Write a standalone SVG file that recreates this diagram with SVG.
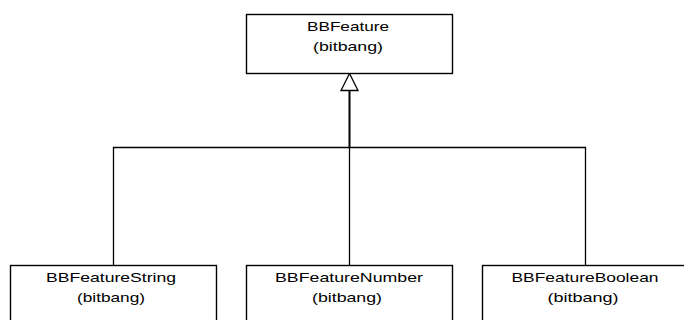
<svg xmlns="http://www.w3.org/2000/svg" width="684" height="320" viewBox="0 0 684 320">
  <style>
    .box { fill: #ffffff; stroke: #000000; stroke-width: 1.4; }
    .label { font-family: "Liberation Sans", Arial, sans-serif; font-size: 13px; fill: #000000; text-anchor: middle; }
    .edge { fill: none; stroke: #000000; stroke-width: 1.3; }
    .trunk { fill: none; stroke: #000000; stroke-width: 2; }
    .head { fill: #ffffff; stroke: #000000; stroke-width: 1.3; stroke-linejoin: miter; }
  </style>
  <rect width="684" height="320" fill="#ffffff"/>

  <!-- inheritance connectors -->
  <g id="connectors">
    <line class="trunk" x1="349.5" y1="90" x2="349.5" y2="147.5"/>
    <polyline class="edge" points="113.5,265 113.5,147.5 585.5,147.5 585.5,265"/>
    <line class="edge" x1="349.5" y1="147.5" x2="349.5" y2="265"/>
    <polygon class="head" points="349.5,73.5 341,90.5 358,90.5"/>
  </g>

  <g id="BBFeature">
    <rect class="box" x="246.5" y="14.5" width="206" height="59"/>
    <text class="label" x="348" y="31" textLength="82" lengthAdjust="spacingAndGlyphs">BBFeature</text>
    <text class="label" x="348" y="51" textLength="70" lengthAdjust="spacingAndGlyphs">(bitbang)</text>
  </g>

  <g id="BBFeatureString">
    <rect class="box" x="10.5" y="265.5" width="206" height="70"/>
    <text class="label" x="111" y="282" textLength="130" lengthAdjust="spacingAndGlyphs">BBFeatureString</text>
    <text class="label" x="111" y="302" textLength="68" lengthAdjust="spacingAndGlyphs">(bitbang)</text>
  </g>

  <g id="BBFeatureNumber">
    <rect class="box" x="246.5" y="265.5" width="206" height="70"/>
    <text class="label" x="349" y="282" textLength="148" lengthAdjust="spacingAndGlyphs">BBFeatureNumber</text>
    <text class="label" x="347" y="302" textLength="70" lengthAdjust="spacingAndGlyphs">(bitbang)</text>
  </g>

  <g id="BBFeatureBoolean">
    <rect class="box" x="482.5" y="265.5" width="206" height="70"/>
    <text class="label" x="585" y="282" textLength="147" lengthAdjust="spacingAndGlyphs">BBFeatureBoolean</text>
    <text class="label" x="583" y="302" textLength="71" lengthAdjust="spacingAndGlyphs">(bitbang)</text>
  </g>
</svg>
